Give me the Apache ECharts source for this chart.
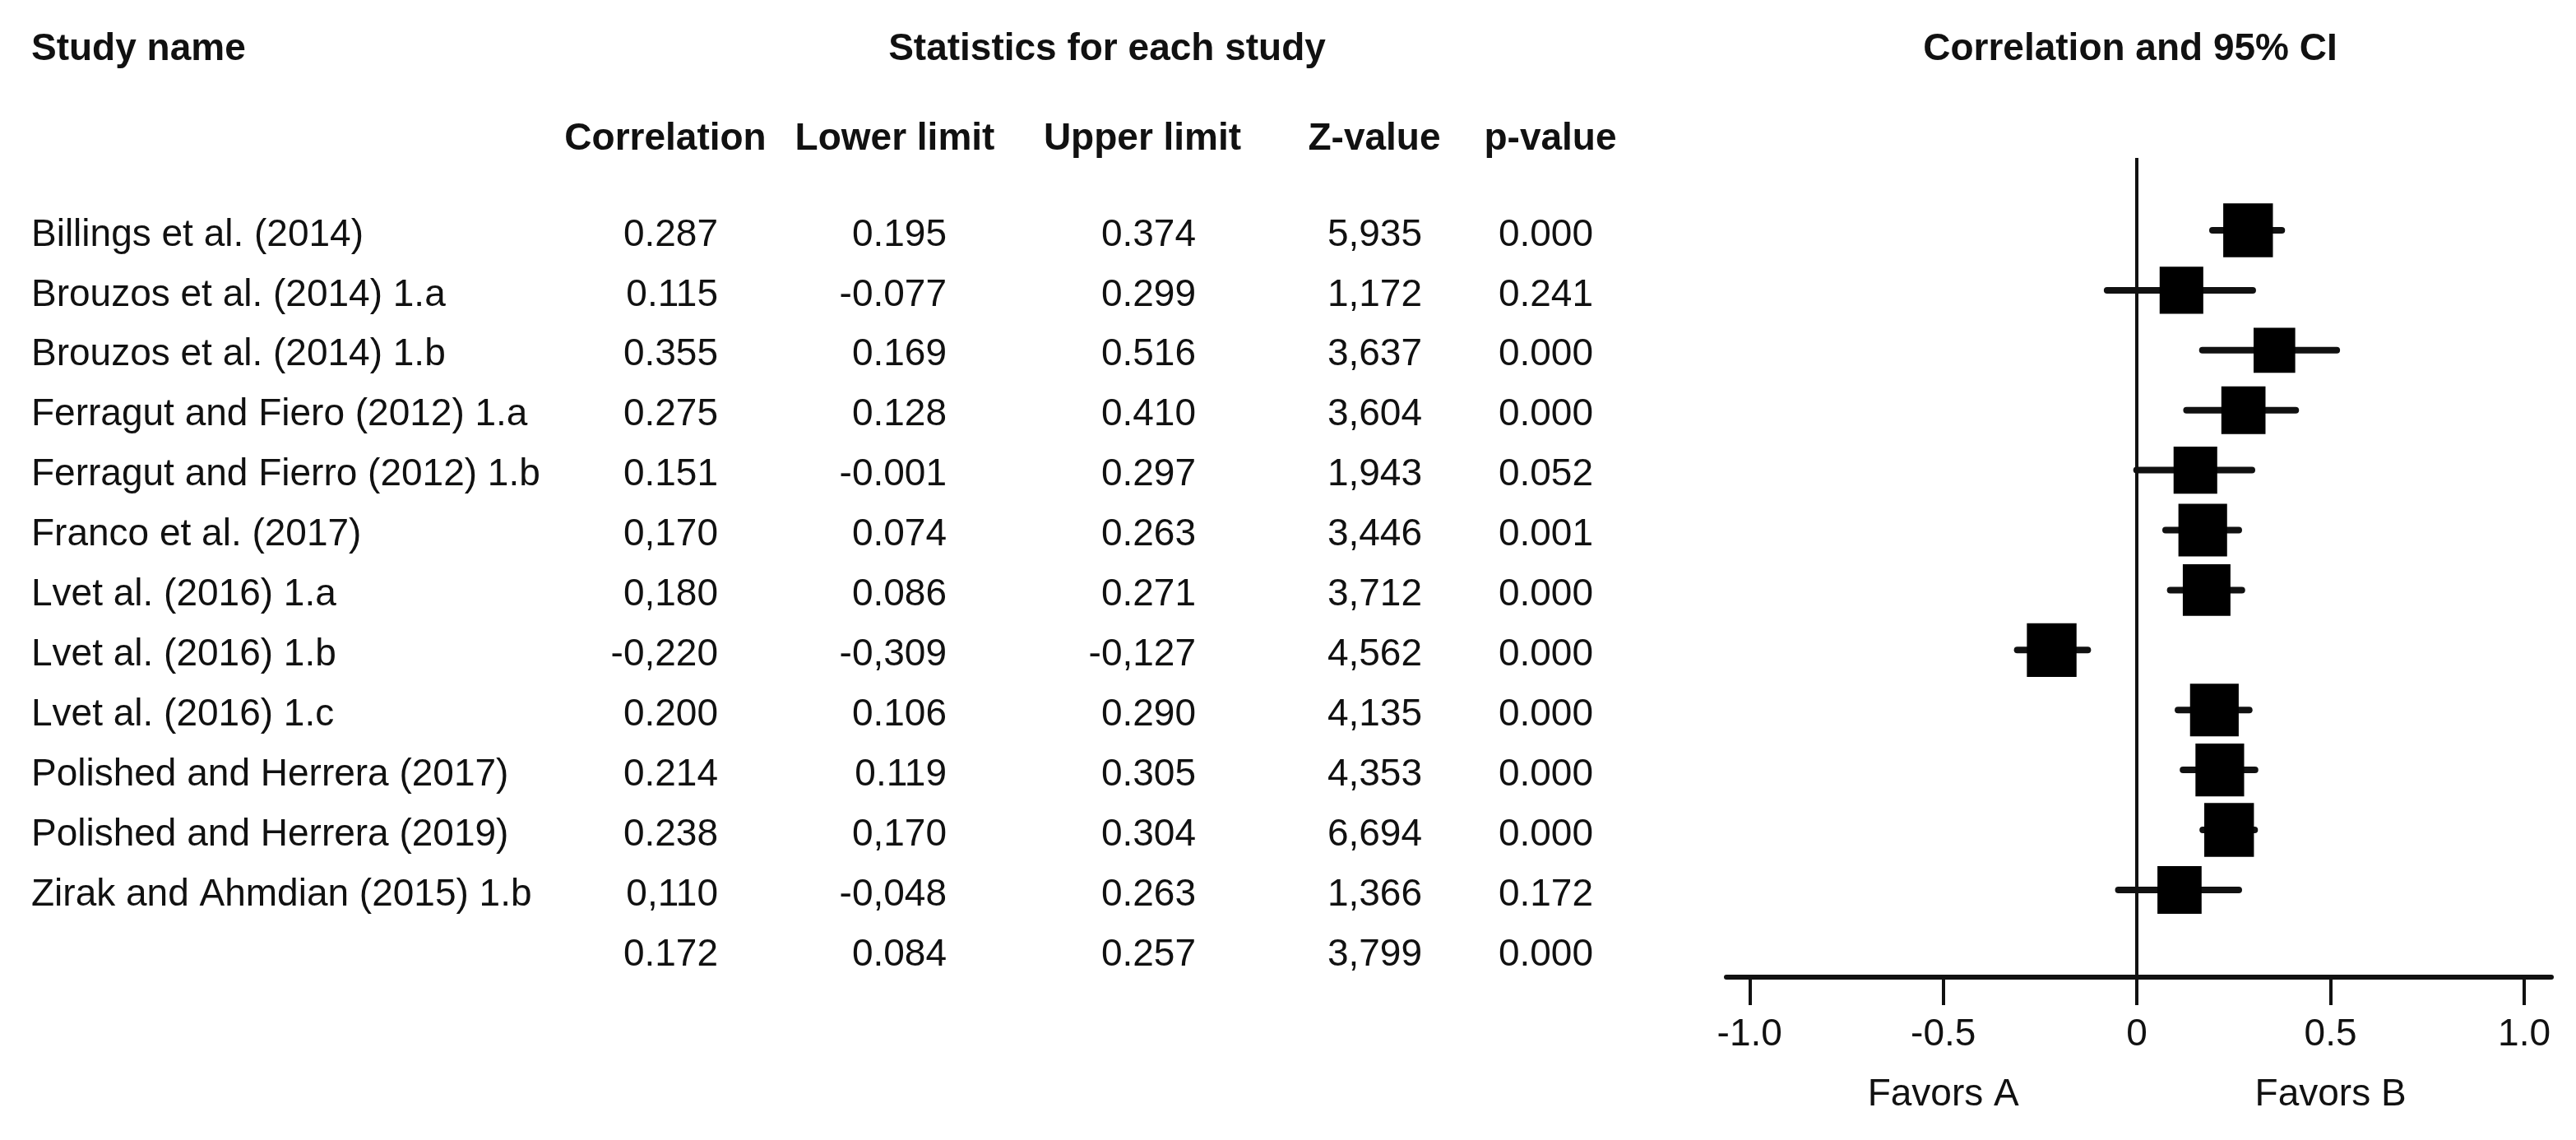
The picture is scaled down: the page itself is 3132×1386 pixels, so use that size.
<!DOCTYPE html>
<html>
<head>
<meta charset="utf-8">
<script src="https://cdn.jsdelivr.net/npm/echarts@6/dist/echarts.min.js"></script>
<style>
html,body{margin:0;padding:0;background:#ffffff;}
#c{width:3132px;height:1386px;}
</style>
</head>
<body>
<div id="c"></div>
<script>
// ---------------- DATA ----------------
const studyNames = [
  'Billings et al. (2014)',
  'Brouzos et al. (2014) 1.a',
  'Brouzos et al. (2014) 1.b',
  'Ferragut and Fiero (2012) 1.a',
  'Ferragut and Fierro (2012) 1.b',
  'Franco et al. (2017)',
  'Lvet al. (2016) 1.a',
  'Lvet al. (2016) 1.b',
  'Lvet al. (2016) 1.c',
  'Polished and Herrera (2017)',
  'Polished and Herrera (2019)',
  'Zirak and Ahmdian (2015) 1.b',
  ''            // pooled (summary) row
];
const correlation = ['0.287','0.115','0.355','0.275','0.151','0,170','0,180','-0,220','0.200','0.214','0.238','0,110','0.172'];
const lowerLimit  = ['0.195','-0.077','0.169','0.128','-0.001','0.074','0.086','-0,309','0.106','0.119','0,170','-0,048','0.084'];
const upperLimit  = ['0.374','0.299','0.516','0.410','0.297','0.263','0.271','-0,127','0.290','0.305','0.304','0.263','0.257'];
const zValue      = ['5,935','1,172','3,637','3,604','1,943','3,446','3,712','4,562','4,135','4,353','6,694','1,366','3,799'];
const pValue      = ['0.000','0.241','0.000','0.000','0.052','0.001','0.000','0.000','0.000','0.000','0.000','0.172','0.000'];
// relative weight of each study
const studyWeight = [0.99,0.87,0.83,0.88,0.87,0.97,0.95,0.99,0.97,0.97,0.99,0.88];

const xTickValues = [-1, -0.5, 0, 0.5, 1];
const favorLabels = ['Favors A', 'Favors B'];
const favorValues = [-0.5, 0.5];

const titles = ['Study name', 'Statistics for each study', 'Correlation and 95% CI'];
const columnHeaders = ['Correlation', 'Lower limit', 'Upper limit', 'Z-value', 'p-value'];

// ---------------- HELPERS ----------------
const num = s => parseFloat(String(s).replace(',', '.'));
const FONT = '"Liberation Sans", Arial, Helvetica, sans-serif';
const INK = '#111111';

const nStudies = studyWeight.length;
const pointData = [];
const ciData = [];
for (let i = 0; i < nStudies; i++) {
  pointData.push({ value: [num(correlation[i]), i], symbolSize: [61 * studyWeight[i], 66 * studyWeight[i]] });
  ciData.push([num(lowerLimit[i]), num(upperLimit[i]), i]);
}

const chart = echarts.init(document.getElementById('c'), null, { renderer: 'canvas' });

const option = {
  backgroundColor: '#ffffff',
  animation: false,
  grid: { left: 2099, right: 30, top: 192, bottom: 198, containLabel: false },
  xAxis: [
    {
      type: 'value', min: -1.06, max: 1.07,
      position: 'bottom',
      splitLine: { show: false },
      axisLine: { show: true, onZero: false, lineStyle: { color: INK, width: 6 } },
      axisTick: { show: true, customValues: xTickValues, length: 34, lineStyle: { color: INK, width: 4 } },
      axisLabel: {
        customValues: xTickValues,
        formatter: v => (Math.abs(v) < 1e-9 ? '0' : Number(v).toFixed(1)),
        fontSize: 46, fontFamily: FONT, color: INK, margin: 47
      }
    },
    {
      type: 'value', min: -1.06, max: 1.07,
      position: 'bottom',
      splitLine: { show: false },
      axisLine: { show: false, onZero: false },
      axisTick: { show: false },
      axisLabel: {
        customValues: favorValues,
        formatter: v => favorLabels[favorValues.indexOf(v)],
        fontSize: 46, fontFamily: FONT, color: INK, margin: 120
      }
    }
  ],
  yAxis: {
    type: 'value', min: -1.207, max: 12.455, inverse: true, show: false,
    axisLine: { onZero: false }
  },
  series: [
    {
      type: 'custom',
      xAxisIndex: 0,
      data: ciData,
      encode: { x: [0, 1], y: 2 },
      renderItem: function (params, api) {
        const p1 = api.coord([api.value(0), api.value(2)]);
        const p2 = api.coord([api.value(1), api.value(2)]);
        return {
          type: 'line',
          shape: { x1: p1[0], y1: p1[1], x2: p2[0], y2: p2[1] },
          style: { stroke: INK, lineWidth: 8, lineCap: 'round' }
        };
      },
      silent: true,
      markLine: {
        silent: true,
        symbol: 'none',
        label: { show: false },
        lineStyle: { color: INK, width: 4, type: 'solid' },
        data: [{ xAxis: 0 }]
      }
    },
    {
      type: 'scatter',
      xAxisIndex: 0,
      symbol: 'rect',
      data: pointData,
      itemStyle: { color: '#000000', opacity: 1 },
      silent: true,
      z: 5
    }
  ]
};
chart.setOption(option);

// ---------------- TABLE TEXT (aligned with the plot rows) ----------------
const rowY = i => chart.convertToPixel({ yAxisIndex: 0 }, i) + 6;
const texts = [];
function addText(str, x, y, align, bold) {
  texts.push({
    type: 'text', silent: true,
    style: {
      text: str, x: x, y: y, align: align, verticalAlign: 'middle',
      fill: INK, fontSize: 46, fontFamily: FONT, fontWeight: bold ? 'bold' : 'normal'
    }
  });
}
// titles
addText(titles[0], 38, 60, 'left', true);
addText(titles[1], 1346, 60, 'center', true);
addText(titles[2], 2590, 60, 'center', true);
// column headers
const headerCenters = [809, 1088, 1389, 1671, 1885];
columnHeaders.forEach((h, k) => addText(h, headerCenters[k], 169, 'center', true));
// rows
const valueRight = [873, 1151, 1454, 1729, 1937];
const cols = [correlation, lowerLimit, upperLimit, zValue, pValue];
for (let i = 0; i < studyNames.length; i++) {
  const y = rowY(i);
  if (studyNames[i]) addText(studyNames[i], 38, y, 'left', false);
  cols.forEach((col, k) => addText(col[i], valueRight[k], y, 'right', false));
}
chart.setOption({ graphic: { elements: texts } });
</script>
</body>
</html>
